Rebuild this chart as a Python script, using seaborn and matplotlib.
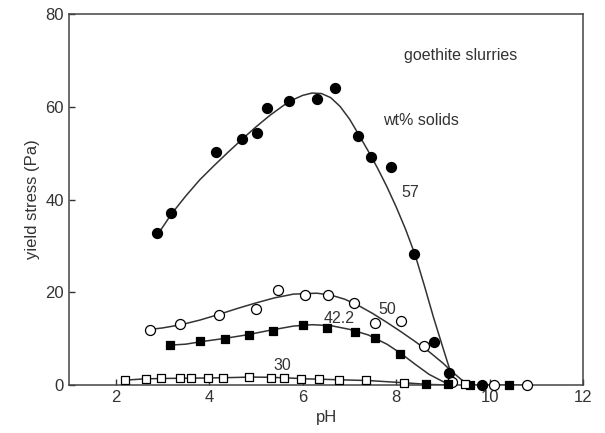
import pandas as pd
import matplotlib
matplotlib.use('Agg')
import matplotlib.pyplot as plt
import seaborn as sns

# measured points (pH, yield stress Pa) for each wt% solids
ph_57 = [2.89, 3.18, 4.15, 4.71, 5.02, 5.23, 5.71, 6.3, 6.7, 7.18, 7.45, 7.88, 8.37, 8.8, 9.12, 9.84]
ys_57 = [32.9, 37.1, 50.2, 53.0, 54.4, 59.8, 61.3, 61.8, 64.1, 53.7, 49.1, 47.1, 28.3, 9.2, 2.6, 0.0]

ph_50 = [2.74, 3.38, 4.2, 5.0, 5.48, 6.05, 6.55, 7.1, 7.54, 8.11, 8.6, 9.2, 10.1, 10.79]
ys_50 = [11.9, 13.2, 15.1, 16.3, 20.5, 19.4, 19.4, 17.6, 13.3, 13.8, 8.3, 0.6, 0.0, 0.0]

ph_42 = [3.17, 3.81, 4.34, 4.86, 5.37, 6.0, 6.53, 7.12, 7.54, 8.09, 8.64, 9.1, 9.58, 10.42]
ys_42 = [8.6, 9.4, 9.9, 10.8, 11.7, 13.0, 12.3, 11.5, 10.1, 6.7, 0.3, 0.3, 0.0, 0.0]

ph_30 = [2.19, 2.65, 2.97, 3.37, 3.62, 3.97, 4.29, 4.86, 5.32, 5.61, 5.96, 6.35, 6.78, 7.35, 8.17, 9.48]
ys_30 = [1.0, 1.3, 1.4, 1.4, 1.5, 1.4, 1.5, 1.8, 1.6, 1.6, 1.3, 1.2, 1.1, 1.0, 0.4, 0.1]

# fitted curves
fit_ph_57 = [2.9, 3.2, 3.5, 3.8, 4.1, 4.4, 4.7, 5.0, 5.3, 5.6, 5.8, 6.0, 6.2, 6.4, 6.6, 6.8,
             7.0, 7.2, 7.4, 7.6, 7.8, 8.0, 8.2, 8.4, 8.6, 8.8, 9.0, 9.15, 9.3]
fit_ys_57 = [32.5, 37.0, 40.8, 44.3, 47.3, 50.2, 53.0, 55.7, 58.2, 60.4, 61.6, 62.5, 63.0, 62.9, 62.0, 60.1,
             57.4, 54.0, 50.5, 46.8, 42.8, 38.4, 33.6, 28.2, 21.5, 14.5, 8.0, 3.2, 0.0]

fit_ph_50 = [2.75, 3.0, 3.4, 3.8, 4.2, 4.6, 5.0, 5.4, 5.8, 6.3, 6.6, 6.9, 7.2, 7.5, 7.8, 8.1,
             8.4, 8.7, 9.0, 9.2, 9.4, 9.6, 10.8]
fit_ys_50 = [12.0, 12.3, 13.0, 14.0, 15.2, 16.5, 17.7, 18.8, 19.6, 19.8, 19.4, 18.5, 17.1, 15.4, 13.5, 11.5,
             9.4, 7.2, 4.7, 2.8, 1.1, 0.0, 0.0]

fit_ph_42 = [3.17, 3.5, 3.8, 4.3, 4.8, 5.3, 5.8, 6.2, 6.6, 7.0, 7.4, 7.8, 8.1, 8.4, 8.7, 9.1]
fit_ys_42 = [8.6, 8.8, 9.3, 10.0, 10.8, 11.8, 12.7, 13.0, 12.8, 12.0, 10.8, 8.8, 6.8, 4.5, 2.3, 0.2]

fit_ph_30 = [2.15, 2.6, 3.0, 3.5, 4.0, 4.5, 4.9, 5.3, 5.7, 6.1, 6.5, 7.0, 7.4, 8.2, 8.7, 9.1]
fit_ys_30 = [1.0, 1.3, 1.4, 1.45, 1.5, 1.6, 1.7, 1.65, 1.5, 1.3, 1.2, 1.05, 0.95, 0.45, 0.1, 0.0]

sns.set_style('ticks')
plt.rcParams['font.family'] = ['Liberation Sans', 'DejaVu Sans']
ink = '#333333'

fig = plt.figure(figsize=(6.05, 4.33), dpi=100)
ax = fig.add_axes([0.114, 0.111, 0.850, 0.856])

fits = [(fit_ph_57, fit_ys_57), (fit_ph_50, fit_ys_50), (fit_ph_42, fit_ys_42), (fit_ph_30, fit_ys_30)]
for fx, fy in fits:
    d = pd.DataFrame({'ph': fx, 'ys': fy})
    sns.lineplot(data=d, x='ph', y='ys', sort=False, estimator=None, color=ink, lw=1.1, ax=ax, zorder=2)

pts = [
    (ph_57, ys_57, 'o', 'black', 7.2),
    (ph_50, ys_50, 'o', 'white', 7.2),
    (ph_42, ys_42, 's', 'black', 6.3),
    (ph_30, ys_30, 's', 'white', 6.0),
]
for px, py, mk, fc, sz in pts:
    d = pd.DataFrame({'ph': px, 'ys': py})
    sns.scatterplot(data=d, x='ph', y='ys', marker=mk, s=sz ** 2, color=fc,
                    edgecolor='black', linewidth=0.9, ax=ax, zorder=3, clip_on=False)

ax.set_xlim(1, 12)
ax.set_ylim(0, 80)
ax.set_xticks([2, 4, 6, 8, 10, 12])
ax.set_yticks([0, 20, 40, 60, 80])
ax.tick_params(direction='in', length=4, width=1, colors=ink, labelsize=12, labelcolor=ink)
for s in ax.spines.values():
    s.set_color('#444444')
    s.set_linewidth(1.1)
ax.set_xlabel('pH', fontsize=12, color=ink)
ax.set_ylabel('yield stress (Pa)', fontsize=12, color=ink)

ax.text(9.37, 71, 'goethite slurries', fontsize=11.5, color=ink, ha='center', va='center')
ax.text(8.53, 57, 'wt% solids', fontsize=11.5, color=ink, ha='center', va='center')
ax.text(8.3, 41.5, '57', fontsize=11.5, color=ink, ha='center', va='center')
ax.text(7.8, 16.3, '50', fontsize=11.5, color=ink, ha='center', va='center')
ax.text(6.78, 14.4, '42.2', fontsize=11.5, color=ink, ha='center', va='center')
ax.text(5.56, 4.3, '30', fontsize=11.5, color=ink, ha='center', va='center')

fig.savefig('out.png', dpi=100)
